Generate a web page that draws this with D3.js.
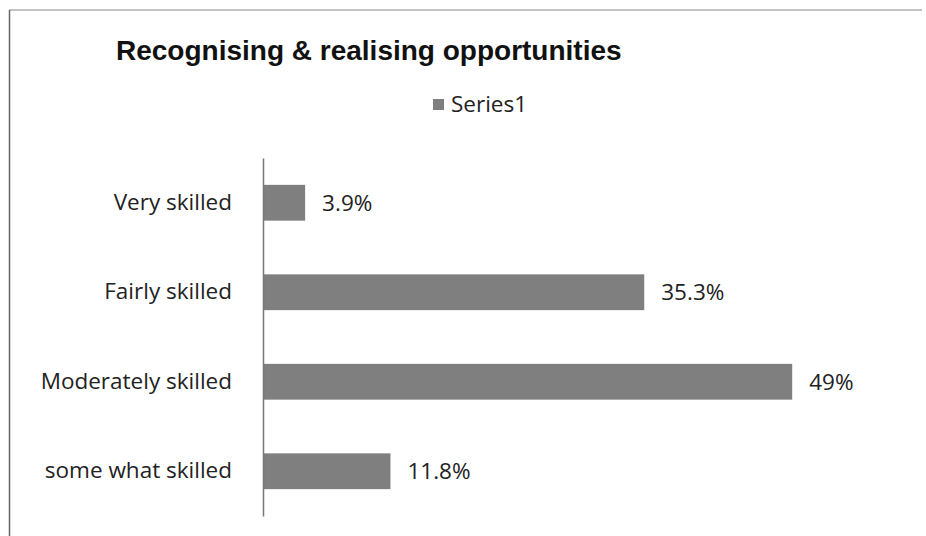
<!DOCTYPE html>
<html>
<head>
<meta charset="utf-8">
<script src="https://cdn.jsdelivr.net/npm/d3@7"></script>
<style>
  body { margin: 0; background: #fff; }
  svg { display: block; }
</style>
</head>
<body>
<div id="chart"></div>
<script>
// Data
var categories = ["Very skilled", "Fairly skilled", "Moderately skilled", "some what skilled"];
var values = [3.9, 35.3, 49, 11.8];
var valueLabels = ["3.9%", "35.3%", "49%", "11.8%"];
var seriesName = "Series1";

var w = 926;
var h = 536;
var barColor = "#7f7f7f";
var labelFont = "Open Sans, sans-serif";
var labelSize = 22.5;

var svg = d3
  .select("#chart")
  .append("svg")
  .attr("width", w)
  .attr("height", h);

// chart frame (top and left edges visible)
svg.append("line")
  .attr("x1", 9).attr("y1", 10).attr("x2", 922).attr("y2", 10)
  .attr("stroke", "#888").attr("stroke-width", 1.2);
svg.append("line")
  .attr("x1", 9.5).attr("y1", 10).attr("x2", 9.5).attr("y2", h)
  .attr("stroke", "#666").attr("stroke-width", 1.5);

// Scales
var xScale = d3.scaleLinear().domain([0, 60]).range([263, 911]);

var yScale = d3
  .scaleBand()
  .domain(categories)
  .range([158, 516])
  .paddingInner(0.6)
  .paddingOuter(0.3);

// Title
svg.append("text")
  .attr("x", 116)
  .attr("y", 60)
  .attr("font-family", "Liberation Sans, Arial, sans-serif")
  .attr("font-weight", "bold")
  .attr("font-size", 28)
  .attr("fill", "#111")
  .text("Recognising & realising opportunities");

// Legend
svg.append("rect")
  .attr("x", 433).attr("y", 99).attr("width", 11).attr("height", 11)
  .attr("fill", barColor);
svg.append("text")
  .attr("x", 451)
  .attr("y", 112)
  .attr("font-family", labelFont)
  .attr("font-size", labelSize)
  .attr("fill", "#222")
  .text(seriesName);

// Bars
svg.selectAll(".bar")
  .data(values)
  .enter()
  .append("rect")
  .attr("class", "bar")
  .attr("x", xScale(0))
  .attr("y", function (d, i) { return yScale(categories[i]); })
  .attr("width", function (d) { return xScale(d) - xScale(0); })
  .attr("height", yScale.bandwidth())
  .attr("fill", barColor);

// Value labels
svg.selectAll(".val")
  .data(values)
  .enter()
  .append("text")
  .attr("class", "val")
  .attr("x", function (d) { return xScale(d) + 17; })
  .attr("y", function (d, i) { return yScale(categories[i]) + yScale.bandwidth() / 2; })
  .attr("dy", "0.35em")
  .attr("font-family", labelFont)
  .attr("font-size", labelSize)
  .attr("fill", "#222")
  .text(function (d, i) { return valueLabels[i]; });

// Category axis
var yAxis = d3.axisLeft(yScale).tickSize(0).tickPadding(31);
var gAxis = svg.append("g")
  .attr("transform", "translate(" + xScale(0) + ",0)")
  .call(yAxis);
gAxis.select(".domain").attr("stroke", "#777").attr("stroke-width", 1.5);
gAxis.selectAll("text")
  .attr("font-family", labelFont)
  .attr("font-size", labelSize)
  .attr("fill", "#222");
</script>
</body>
</html>
